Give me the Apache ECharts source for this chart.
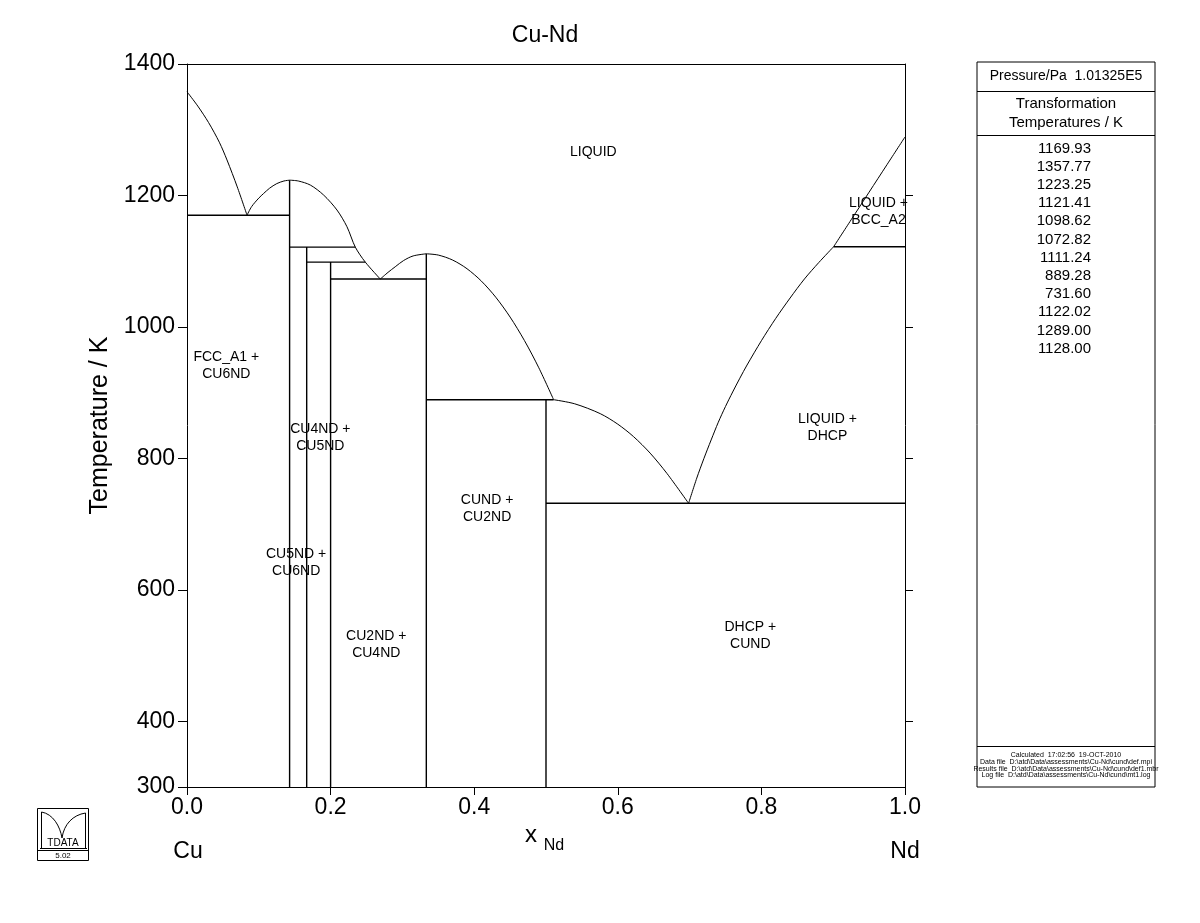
<!DOCTYPE html>
<html>
<head>
<meta charset="utf-8">
<script src="https://cdn.jsdelivr.net/npm/echarts@6/dist/echarts.min.js"></script>
<style>
html,body{margin:0;padding:0;background:#ffffff;}
#chart{width:1200px;height:923px;}
</style>
</head>
<body>
<div id="chart"></div>
<script>
// ---------------- DATA ----------------
const xTickValues = [0, 0.2, 0.4, 0.6, 0.8, 1.0];
const yTickValues = [300, 400, 600, 800, 1000, 1200, 1400];
const rightTickValues = [400, 600, 800, 1000, 1200];

// liquidus curves [x_Nd, T/K]
const cuLiquidus = [[0, 1357.77], [0.015, 1336], [0.03, 1311], [0.045, 1281], [0.0557, 1254], [0.07, 1213], [0.0836, 1169.93]];
const cu6ndLiquidusLeft = [[0.0836, 1169.93], [0.09, 1183], [0.1, 1196], [0.1067, 1203], [0.115, 1211], [0.125, 1218], [0.135, 1222], [0.1429, 1223.25]];
const cu6ndLiquidusRight = [[0.1429, 1223.25], [0.155, 1222], [0.1718, 1215.8], [0.1903, 1200.6], [0.2089, 1177.8], [0.2228, 1152.4], [0.2344, 1121.41], [0.2483, 1098.62], [0.2692, 1072.82]];
const cu2ndLiquidusLeft = [[0.2692, 1072.82], [0.28, 1083], [0.29, 1091.5], [0.3017, 1101], [0.315, 1108], [0.3333, 1111.24]];
const cu2ndLiquidusRight = [[0.3333, 1111.24], [0.35, 1109.3], [0.37, 1101.7], [0.39, 1088.5], [0.41, 1069.7], [0.43, 1045.2], [0.45, 1015.0], [0.47, 979.2], [0.49, 937.8], [0.5106, 889.28]];
const cundLiquidus = [[0.5106, 889.28], [0.54, 883], [0.5756, 868], [0.6, 852], [0.622, 833], [0.645, 808], [0.6685, 777], [0.6986, 731.6]];
const ndLiquidusLow = [[0.6986, 731.6], [0.71, 770], [0.72, 800], [0.73, 828], [0.74, 855], [0.75, 879], [0.76, 901], [0.77, 922], [0.78, 942], [0.8, 979], [0.82, 1013], [0.84, 1044], [0.86, 1073], [0.88, 1098], [0.9006, 1122.02]];
const ndLiquidusHigh = [[0.9006, 1122.02], [0.925, 1163], [0.95, 1205], [0.975, 1247], [1.0, 1289]];

// invariant (horizontal) lines: [x from, x to, T]
const invariantLines = [
  [0, 0.1429, 1169.93],
  [0.1429, 0.2344, 1121.41],
  [0.1667, 0.2483, 1098.62],
  [0.2, 0.3333, 1072.82],
  [0.3333, 0.5106, 889.28],
  [0.5, 1.0, 731.6],
  [0.9006, 1.0, 1122.02]
];

// stoichiometric compounds: [x, T bottom, T top]
const compoundLines = [
  [0.1429, 300, 1223.25],
  [0.1667, 300, 1121.41],
  [0.2, 300, 1098.62],
  [0.3333, 300, 1111.24],
  [0.5, 300, 889.28]
];

// phase field labels: [text, x, T]
const phaseLabels = [
  ['LIQUID', 0.566, 1266],
  ['LIQUID +\nBCC_A2', 0.963, 1176],
  ['FCC_A1 +\nCU6ND', 0.0547, 941],
  ['CU4ND +\nCU5ND', 0.1857, 831],
  ['CU5ND +\nCU6ND', 0.152, 642],
  ['CU2ND +\nCU4ND', 0.2636, 516],
  ['CUND +\nCU2ND', 0.418, 724],
  ['LIQUID +\nDHCP', 0.892, 846],
  ['DHCP +\nCUND', 0.7846, 530]
];

const transformationTemperatures = ['1169.93', '1357.77', '1223.25', '1121.41', '1098.62', '1072.82', '1111.24', '889.28', '731.60', '1122.02', '1289.00', '1128.00'];

const footerLines = [
  'Calculated  17:02:56  19-OCT-2010',
  'Data file  D:\\atd\\Data\\assessments\\Cu-Nd\\cund\\def.mpi',
  'Results file  D:\\atd\\Data\\assessments\\Cu-Nd\\cund\\def1.mbr',
  'Log file  D:\\atd\\Data\\assessments\\Cu-Nd\\cund\\mt1.log'
];

// ---------------- CHART ----------------
const FONT = "'Liberation Sans', Arial, sans-serif";
const chart = echarts.init(document.getElementById('chart'), null, {renderer: 'canvas'});

const series = [];
const curveStyle = {color: '#000', width: 1};
const straightStyle = {color: '#000', width: 1.4};

[cuLiquidus, cu6ndLiquidusLeft, cu6ndLiquidusRight, cu2ndLiquidusLeft, cu2ndLiquidusRight, cundLiquidus, ndLiquidusLow, ndLiquidusHigh].forEach(function (d) {
  series.push({type: 'line', data: d, symbol: 'none', smooth: 0.3, lineStyle: curveStyle, silent: true, animation: false, clip: true});
});
invariantLines.forEach(function (l) {
  series.push({type: 'line', data: [[l[0], l[2]], [l[1], l[2]]], symbol: 'none', lineStyle: straightStyle, silent: true, animation: false});
});
compoundLines.forEach(function (l) {
  series.push({type: 'line', data: [[l[0], l[1]], [l[0], l[2]]], symbol: 'none', lineStyle: straightStyle, silent: true, animation: false});
});
series.push({
  type: 'scatter',
  data: phaseLabels.map(function (p) { return {name: p[0], value: [p[1], p[2]]}; }),
  symbolSize: 1,
  itemStyle: {color: 'rgba(0,0,0,0)'},
  silent: true,
  animation: false,
  label: {show: true, position: 'inside', formatter: function (p) { return p.name; }, color: '#000', opacity: 1, textBorderWidth: 0, fontSize: 14, lineHeight: 17, fontFamily: FONT, align: 'center'}
});

const PX = 977, PW = 178, PT = 62, PB = 787;
const graphic = [];
// title
graphic.push({type: 'text', x: 545, y: 36, style: {text: 'Cu-Nd', font: '23px ' + FONT, fill: '#000', align: 'center', verticalAlign: 'middle'}});
// x axis name with subscript
graphic.push({type: 'text', x: 531, y: 835, style: {text: 'x', font: '24px ' + FONT, fill: '#000', align: 'center', verticalAlign: 'middle'}});
graphic.push({type: 'text', x: 554, y: 846, style: {text: 'Nd', font: '16px ' + FONT, fill: '#000', align: 'center', verticalAlign: 'middle'}});
// component names
graphic.push({type: 'text', x: 188, y: 852, style: {text: 'Cu', font: '23px ' + FONT, fill: '#000', align: 'center', verticalAlign: 'middle'}});
graphic.push({type: 'text', x: 905, y: 852, style: {text: 'Nd', font: '23px ' + FONT, fill: '#000', align: 'center', verticalAlign: 'middle'}});
// panel
graphic.push({type: 'rect', shape: {x: PX, y: PT, width: PW, height: PB - PT}, style: {fill: 'none', stroke: '#000', lineWidth: 1}});
graphic.push({type: 'line', shape: {x1: PX, y1: 91.5, x2: PX + PW, y2: 91.5}, style: {stroke: '#000', lineWidth: 1}});
graphic.push({type: 'line', shape: {x1: PX, y1: 135.5, x2: PX + PW, y2: 135.5}, style: {stroke: '#000', lineWidth: 1}});
graphic.push({type: 'line', shape: {x1: PX, y1: 746.5, x2: PX + PW, y2: 746.5}, style: {stroke: '#000', lineWidth: 1}});
graphic.push({type: 'text', x: PX + PW / 2, y: 76, style: {text: 'Pressure/Pa  1.01325E5', font: '14px ' + FONT, fill: '#000', align: 'center', verticalAlign: 'middle'}});
graphic.push({type: 'text', x: PX + PW / 2, y: 113, style: {text: 'Transformation\nTemperatures / K', font: '15px ' + FONT, lineHeight: 19, fill: '#000', align: 'center', verticalAlign: 'middle'}});
transformationTemperatures.forEach(function (t, i) {
  graphic.push({type: 'text', x: 1091, y: 148.5 + i * 18.2, style: {text: t, font: '15px ' + FONT, fill: '#000', align: 'right', verticalAlign: 'middle'}});
});
footerLines.forEach(function (t, i) {
  graphic.push({type: 'text', x: 1066, y: 755.5 + i * 6.6, style: {text: t, font: '7px ' + FONT, fill: '#000', align: 'center', verticalAlign: 'middle'}});
});
// logo
graphic.push({type: 'rect', shape: {x: 37.5, y: 808.5, width: 51, height: 52}, style: {fill: 'none', stroke: '#000', lineWidth: 1}});
graphic.push({type: 'line', shape: {x1: 37.5, y1: 850.5, x2: 88.5, y2: 850.5}, style: {stroke: '#000', lineWidth: 1}});
graphic.push({type: 'line', shape: {x1: 41.5, y1: 812, x2: 41.5, y2: 848}, style: {stroke: '#000', lineWidth: 1}});
graphic.push({type: 'line', shape: {x1: 85.5, y1: 813, x2: 85.5, y2: 848}, style: {stroke: '#000', lineWidth: 1}});
graphic.push({type: 'line', shape: {x1: 40, y1: 848.5, x2: 87, y2: 848.5}, style: {stroke: '#000', lineWidth: 1}});
graphic.push({type: 'bezierCurve', shape: {x1: 41.5, y1: 812, cpx1: 53, cpy1: 814, cpx2: 60, cpy2: 826, x2: 62, y2: 838}, style: {fill: 'none', stroke: '#000', lineWidth: 1}});
graphic.push({type: 'bezierCurve', shape: {x1: 62, y1: 838, cpx1: 64, cpy1: 824, cpx2: 73, cpy2: 815, x2: 85.5, y2: 813}, style: {fill: 'none', stroke: '#000', lineWidth: 1}});
graphic.push({type: 'text', x: 63, y: 843, style: {text: 'TDATA', font: '10px ' + FONT, fill: '#000', align: 'center', verticalAlign: 'middle'}});
graphic.push({type: 'text', x: 63, y: 855.5, style: {text: '5.02', font: '8px ' + FONT, fill: '#000', align: 'center', verticalAlign: 'middle'}});

const axisCommon = {type: 'value', splitLine: {show: false}, axisLine: {show: true, onZero: false, lineStyle: {color: '#000', width: 1}}};

const option = {
  backgroundColor: '#ffffff',
  animation: false,
  grid: {left: 187, top: 64, right: 295, bottom: 136, containLabel: false},
  xAxis: [
    Object.assign({}, axisCommon, {
      min: 0, max: 1, interval: 0.2, position: 'bottom',
      axisTick: {show: true, inside: false, length: 8, lineStyle: {color: '#000'}},
      axisLabel: {show: true, margin: 9, color: '#000', fontSize: 23, fontFamily: FONT, formatter: function (v) { return v.toFixed(1); }}
    }),
    Object.assign({}, axisCommon, {
      min: 0, max: 1, interval: 0.2, position: 'top',
      axisTick: {show: false}, axisLabel: {show: false}
    })
  ],
  yAxis: [
    Object.assign({}, axisCommon, {
      min: 300, max: 1400, position: 'left',
      axisTick: {show: true, inside: false, length: 9, customValues: yTickValues, lineStyle: {color: '#000'}},
      axisLabel: {show: true, margin: 12, color: '#000', fontSize: 23, fontFamily: FONT, customValues: yTickValues, formatter: function (v) { return String(Math.round(v)); }},
      name: 'Temperature / K', nameLocation: 'middle', nameGap: 57,
      nameTextStyle: {color: '#000', fontSize: 25, fontFamily: FONT}
    }),
    Object.assign({}, axisCommon, {
      min: 300, max: 1400, position: 'right',
      axisTick: {show: true, inside: false, length: 8, customValues: rightTickValues, lineStyle: {color: '#000'}},
      axisLabel: {show: false}
    })
  ],
  series: series,
  graphic: graphic
};
chart.setOption(option);
</script>
</body>
</html>
